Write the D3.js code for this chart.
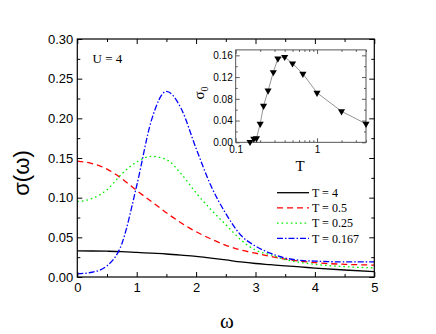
<!DOCTYPE html>
<html>
<head>
<meta charset="utf-8">
<script src="https://d3js.org/d3.v7.min.js"></script>
<style>
body { margin: 0; background: #fff; }
svg { display: block; }
</style>
</head>
<body>
<script>
// main panel data: sigma(omega) for U = 4
var omega = [0, 0.25, 0.5, 0.75, 1.0, 1.25, 1.5, 1.75, 2.0, 2.25, 2.5, 2.75, 3.0, 3.25, 3.5, 3.75, 4.0, 4.5, 5.0];
var sigT4    = [0.033, 0.0328, 0.0325, 0.032, 0.031, 0.030, 0.029, 0.0276, 0.026, 0.0238, 0.0215, 0.019, 0.017, 0.0155, 0.014, 0.0127, 0.0113, 0.0088, 0.0067];
var sigT05   = [0.146, 0.143, 0.136, 0.124, 0.109, 0.095, 0.081, 0.068, 0.057, 0.048, 0.040, 0.034, 0.030, 0.026, 0.0225, 0.020, 0.018, 0.016, 0.015];
var sigT025  = [0.095, 0.099, 0.110, 0.130, 0.145, 0.152, 0.148, 0.130, 0.106, 0.085, 0.066, 0.047, 0.034, 0.028, 0.022, 0.0185, 0.016, 0.013, 0.0115];
var sigT0167 = [0.004, 0.006, 0.014, 0.042, 0.115, 0.198, 0.234, 0.212, 0.162, 0.115, 0.080, 0.053, 0.039, 0.030, 0.024, 0.021, 0.020, 0.019, 0.019];
var seriesNames = ["T = 4", "T = 0.5", "T = 0.25", "T = 0.167"];
var yTicks = [0, 0.05, 0.10, 0.15, 0.20, 0.25, 0.30];
var xTicks = [0, 1, 2, 3, 4, 5];

// inset data: sigma_0 vs T
var insetT   = [0.15, 0.167, 0.18, 0.2, 0.22, 0.25, 0.29, 0.33, 0.4, 0.5, 0.67, 1.0, 2.0, 4.0];
var insetSig = [0.0006, 0.0066, 0.0074, 0.034, 0.067, 0.095, 0.129, 0.154, 0.157, 0.145, 0.126, 0.091, 0.057, 0.034];
var insetYTicks = [0, 0.04, 0.08, 0.12, 0.16];

var W = 436, H = 334;
var svg = d3.select("body").append("svg").attr("width", W).attr("height", H);

var x = d3.scaleLinear().domain([0, 5]).range([77.3, 374.3]);
var y = d3.scaleLinear().domain([0, 0.30]).range([277, 39]);

var series = [
  {name: seriesNames[0], vals: sigT4,    color: "#000000", dash: null},
  {name: seriesNames[1], vals: sigT05,   color: "#ff0000", dash: "6,4"},
  {name: seriesNames[2], vals: sigT025,  color: "#00ee00", dash: "1.6,3"},
  {name: seriesNames[3], vals: sigT0167, color: "#0000ff", dash: "6,2,1.5,2"}
];

var line = d3.line()
  .x(function(d){ return x(d[0]); })
  .y(function(d){ return y(d[1]); })
  .curve(d3.curveMonotoneX);

svg.append("g").selectAll("path")
  .data(series)
  .enter()
  .append("path")
  .attr("d", function(s){ return line(omega.map(function(w, i){ return [w, s.vals[i]]; })); })
  .attr("fill", "none")
  .attr("stroke", function(s){ return s.color; })
  .attr("stroke-width", 1.3)
  .attr("stroke-dasharray", function(s){ return s.dash; });

// axes, ticks pointing inward on all four sides
function styleAxis(g) {
  g.select(".domain").remove();
  g.selectAll("line").attr("stroke", "#000").attr("stroke-width", 1);
  g.selectAll("text").attr("font-family", "Liberation Sans, Arial, sans-serif").attr("fill", "#000");
}
var yMinor = d3.range(0.025, 0.30, 0.05);
var xMinor = d3.range(0.5, 5, 1);

svg.append("g").attr("transform", "translate(" + x(0) + ",0)")
  .call(d3.axisLeft(y).tickValues(yTicks).tickSize(-5).tickPadding(4).tickFormat(d3.format(".2f")))
  .call(styleAxis).selectAll("text").attr("font-size", 13);
svg.append("g").attr("transform", "translate(" + x(0) + ",0)")
  .call(d3.axisLeft(y).tickValues(yMinor).tickSize(-3).tickFormat("")).call(styleAxis);
svg.append("g").attr("transform", "translate(" + x(5) + ",0)")
  .call(d3.axisRight(y).tickValues(yTicks).tickSize(-5).tickFormat("")).call(styleAxis);
svg.append("g").attr("transform", "translate(" + x(5) + ",0)")
  .call(d3.axisRight(y).tickValues(yMinor).tickSize(-3).tickFormat("")).call(styleAxis);

svg.append("g").attr("transform", "translate(0," + y(0) + ")")
  .call(d3.axisBottom(x).tickValues(xTicks).tickSize(-5).tickPadding(6).tickFormat(d3.format("d")))
  .call(styleAxis).selectAll("text").attr("font-size", 13);
svg.append("g").attr("transform", "translate(0," + y(0) + ")")
  .call(d3.axisBottom(x).tickValues(xMinor).tickSize(-3).tickFormat("")).call(styleAxis);
svg.append("g").attr("transform", "translate(0," + y(0.30) + ")")
  .call(d3.axisTop(x).tickValues(xTicks).tickSize(-5).tickFormat("")).call(styleAxis);
svg.append("g").attr("transform", "translate(0," + y(0.30) + ")")
  .call(d3.axisTop(x).tickValues(xMinor).tickSize(-3).tickFormat("")).call(styleAxis);

svg.append("rect")
  .attr("x", x(0)).attr("y", y(0.30))
  .attr("width", x(5) - x(0)).attr("height", y(0) - y(0.30))
  .attr("fill", "none").attr("stroke", "#000").attr("stroke-width", 1.2);

// axis titles
svg.append("text")
  .attr("transform", "translate(29,173) rotate(-90)")
  .attr("text-anchor", "middle")
  .attr("font-family", "Liberation Sans, Arial, sans-serif")
  .attr("font-size", 22)
  .text("σ(ω)");
svg.append("text")
  .attr("x", 227).attr("y", 328)
  .attr("text-anchor", "middle")
  .attr("font-family", "Liberation Serif, Times New Roman, serif")
  .attr("font-size", 21)
  .text("ω");

svg.append("text")
  .attr("x", 92.5).attr("y", 63)
  .attr("font-family", "Liberation Serif, Times New Roman, serif")
  .attr("font-size", 13)
  .text("U = 4");

// legend
var legend = svg.append("g").selectAll("g")
  .data(series)
  .enter()
  .append("g")
  .attr("transform", function(d, i){ return "translate(277," + (192.7 + i * 15.2) + ")"; });
legend.append("line")
  .attr("x1", 0).attr("x2", 32)
  .attr("stroke", function(s){ return s.color; })
  .attr("stroke-width", 1.3)
  .attr("stroke-dasharray", function(s){ return s.dash; });
legend.append("text")
  .attr("x", 35).attr("y", 4.3)
  .attr("font-family", "Liberation Serif, Times New Roman, serif")
  .attr("font-size", 12)
  .text(function(s){ return s.name; });

// inset
var ix = d3.scaleLog().domain([0.1, 4]).range([235.7, 366]);
var iy = d3.scaleLinear().domain([0, 0.17]).range([142.3, 49.9]);
var inset = svg.append("g");
inset.append("rect")
  .attr("x", 235.7).attr("y", 49.9)
  .attr("width", 366 - 235.7).attr("height", 142.3 - 49.9)
  .attr("fill", "#fff");

var ixMinor = [0.2, 0.3, 0.4, 0.5, 0.6, 0.7, 0.8, 0.9, 2, 3, 4];
var iyMinor = [0.02, 0.06, 0.10, 0.14];
function styleInset(g) {
  g.select(".domain").remove();
  g.selectAll("line").attr("stroke", "#333").attr("stroke-width", 0.8);
  g.selectAll("text").attr("font-family", "Liberation Sans, Arial, sans-serif").attr("font-size", 10).attr("fill", "#000");
}
inset.append("g").attr("transform", "translate(235.7,0)")
  .call(d3.axisLeft(iy).tickValues(insetYTicks).tickSize(-4).tickPadding(3).tickFormat(d3.format(".2f"))).call(styleInset);
inset.append("g").attr("transform", "translate(235.7,0)")
  .call(d3.axisLeft(iy).tickValues(iyMinor).tickSize(-2).tickFormat("")).call(styleInset);
inset.append("g").attr("transform", "translate(366,0)")
  .call(d3.axisRight(iy).tickValues(insetYTicks).tickSize(-4).tickFormat("")).call(styleInset);
inset.append("g").attr("transform", "translate(366,0)")
  .call(d3.axisRight(iy).tickValues(iyMinor).tickSize(-2).tickFormat("")).call(styleInset);
inset.append("g").attr("transform", "translate(0,142.3)")
  .call(d3.axisBottom(ix).tickValues([0.1, 1]).tickSize(-4).tickPadding(4).tickFormat(d3.format("~g"))).call(styleInset);
inset.append("g").attr("transform", "translate(0,142.3)")
  .call(d3.axisBottom(ix).tickValues(ixMinor).tickSize(-2).tickFormat("")).call(styleInset);
inset.append("g").attr("transform", "translate(0,49.9)")
  .call(d3.axisTop(ix).tickValues([0.1, 1]).tickSize(-4).tickFormat("")).call(styleInset);
inset.append("g").attr("transform", "translate(0,49.9)")
  .call(d3.axisTop(ix).tickValues(ixMinor).tickSize(-2).tickFormat("")).call(styleInset);

inset.append("rect")
  .attr("x", 235.7).attr("y", 49.9)
  .attr("width", 366 - 235.7).attr("height", 142.3 - 49.9)
  .attr("fill", "none").attr("stroke", "#444").attr("stroke-width", 0.9);

inset.append("path")
  .datum(insetT.map(function(t, i){ return [t, insetSig[i]]; }))
  .attr("d", d3.line().x(function(d){ return ix(d[0]); }).y(function(d){ return iy(d[1]); }))
  .attr("fill", "none")
  .attr("stroke", "#888")
  .attr("stroke-width", 0.9);

var tri = d3.symbol().type(d3.symbolTriangle).size(22);
inset.selectAll("path.pt")
  .data(insetT.map(function(t, i){ return [t, insetSig[i]]; }))
  .enter()
  .append("path")
  .attr("class", "pt")
  .attr("d", tri)
  .attr("transform", function(d){ return "translate(" + ix(d[0]) + "," + iy(d[1]) + ") rotate(180)"; })
  .attr("fill", "#000");

var s0 = inset.append("text")
  .attr("transform", "translate(204,93) rotate(-90)")
  .attr("text-anchor", "middle")
  .attr("font-family", "Liberation Serif, Times New Roman, serif")
  .attr("font-size", 15);
s0.append("tspan").text("σ");
s0.append("tspan").attr("font-size", 10).attr("dy", 4).text("0");

inset.append("text")
  .attr("x", 300).attr("y", 171)
  .attr("text-anchor", "middle")
  .attr("font-family", "Liberation Serif, Times New Roman, serif")
  .attr("font-size", 15)
  .text("T");
</script>
</body>
</html>
